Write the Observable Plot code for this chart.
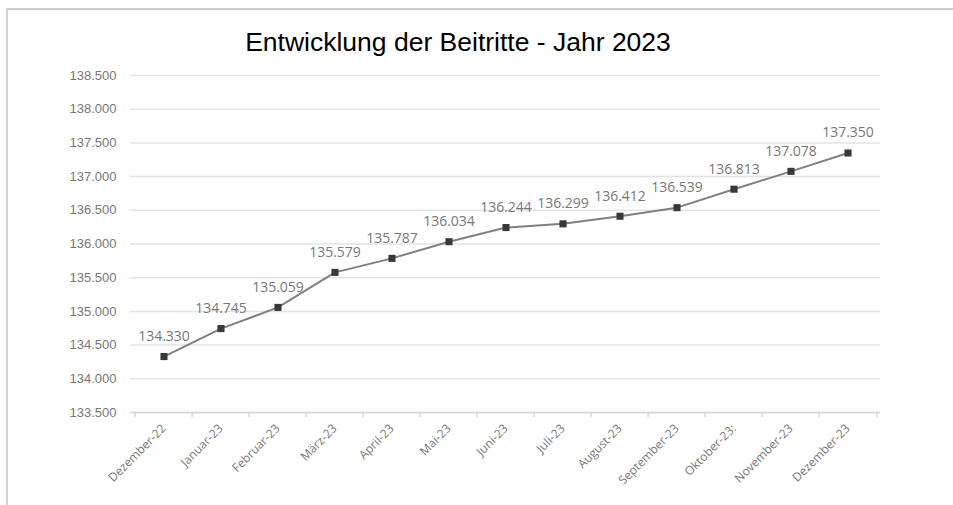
<!DOCTYPE html>
<html>
<head>
<meta charset="utf-8">
<script src="https://cdn.jsdelivr.net/npm/d3@7"></script>
<script src="https://cdn.jsdelivr.net/npm/@observablehq/plot@0.6"></script>
<style>
  html, body { margin: 0; padding: 0; background: #fff; overflow: hidden; }
  #page { position: relative; width: 953px; height: 505px; overflow: hidden; }
  #frame { position: absolute; left: 6px; top: 8px; width: 960px; height: 497px;
           border-top: 2px solid #cdcdcd; border-left: 2px solid #d2d2d2; }
  #title { position: absolute; left: 0; top: 27px; width: 916px; text-align: center;
           font-family: "Liberation Sans", Arial, sans-serif; font-size: 26.5px; color: #000; }
  #chart { position: absolute; left: 0; top: 65px; }
</style>
</head>
<body>
<div id="page">
  <div id="frame"></div>
  <div id="title">Entwicklung der Beitritte - Jahr 2023</div>
  <div id="chart"></div>
</div>
<script>
const months = ["Dezember-22", "Januar-23", "Februar-23", "März-23", "April-23", "Mai-23", "Juni-23",
                "Juli-23", "August-23", "September-23", "Oktober-23:", "November-23", "Dezember-23"];
const values = [134330, 134745, 135059, 135579, 135787, 136034, 136244,
                136299, 136412, 136539, 136813, 137078, 137350];
const yTicks = [133500, 134000, 134500, 135000, 135500, 136000, 136500, 137000, 137500, 138000, 138500];

const data = months.map((m, i) => ({m, v: values[i]}));
const fmt = d3.formatLocale({decimal: ",", thousands: ".", grouping: [3], currency: ["", ""]}).format(",");

const W = 953, H = 440, ML = 130, MR = 73;
const bw = (W - ML - MR) / months.length;

const chart = Plot.plot({
  width: W, height: H,
  marginLeft: ML, marginRight: MR, marginTop: 10, marginBottom: 93,
  x: {type: "band", domain: months, padding: 0},
  y: {domain: [133500, 138500]},
  marks: [
    Plot.ruleY(yTicks, {stroke: "#e3e3e3", strokeWidth: 1.5}),
    Plot.ruleY([133500], {stroke: "#d6d6d6", strokeWidth: 1.5}),
    Plot.axisY({ticks: yTicks, tickSize: 0, tickPadding: 14, tickFormat: fmt, fontSize: 13,
                fill: "#777", fontFamily: "Liberation Sans, Arial, sans-serif", label: null}),
    Plot.axisX({tickSize: 5, tickFormat: () => "", dx: -bw / 2, stroke: "#d6d6d6", strokeWidth: 1.5, label: null}),
    Plot.axisX({ticks: [months[months.length - 1]], tickSize: 5, tickFormat: () => "", dx: bw / 2,
                stroke: "#d6d6d6", strokeWidth: 1.5, label: null}),
    Plot.axisX({tickSize: 0, tickPadding: 14, tickRotate: -45, fontSize: 12, fill: "#777",
                fontFamily: "Open Sans, sans-serif", label: null}),
    Plot.line(data, {x: "m", y: "v", stroke: "#808080", strokeWidth: 2}),
    Plot.dot(data, {x: "m", y: "v", symbol: "square", r: 4, fill: "#383838", stroke: "none"}),
    Plot.text(data, {x: "m", y: "v", text: d => fmt(d.v), dy: -20, fill: "#777", fontSize: 14,
                     fontFamily: "Open Sans, sans-serif"})
  ]
});
document.getElementById("chart").appendChild(chart);
</script>
</body>
</html>
